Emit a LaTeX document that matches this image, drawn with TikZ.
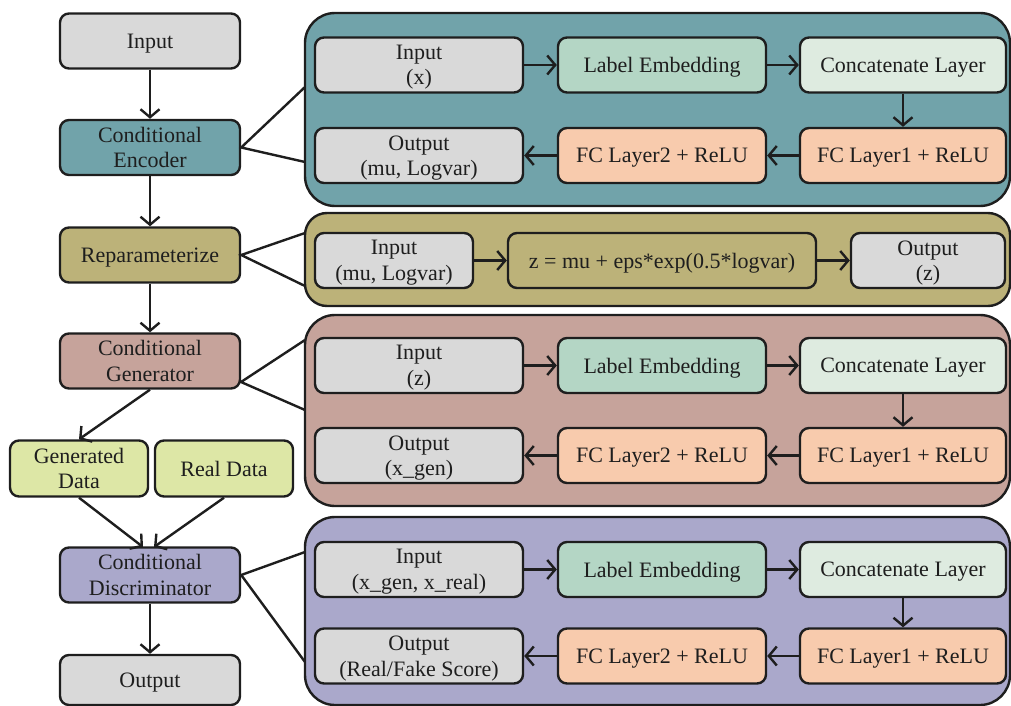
\documentclass[tikz,border=0pt]{standalone}
\usepackage{fontspec}
\setmainfont{Liberation Serif}
\usetikzlibrary{arrows.meta}

\definecolor{cteal}{HTML}{71A3AA}
\definecolor{colive}{HTML}{BCB279}
\definecolor{crose}{HTML}{C6A39B}
\definecolor{clav}{HTML}{AAA8CB}
\definecolor{cgrey}{HTML}{D9D9D9}
\definecolor{cmint}{HTML}{B4D6C5}
\definecolor{cpale}{HTML}{DEEBE0}
\definecolor{cpeach}{HTML}{F8CBAD}
\definecolor{clime}{HTML}{DDE7A6}
\definecolor{cink}{HTML}{1E1E1E}

\tikzset{
  box/.style={draw=cink, line width=2.4pt, rounded corners=9pt, align=center,
    inner sep=0pt, text=cink, text depth=-1pt, font=\fontsize{22}{25.5}\selectfont},
  leftbox/.style={box, minimum width=180pt, minimum height=55pt},
  panel/.style={draw=cink, line width=2.4pt, rounded corners=30pt, inner sep=0pt},
  cell/.style={box, minimum width=208pt, minimum height=55pt},
  flow/.style={draw=cink, line width=2.4pt, -{Straight Barb[length=8pt,width=19pt,line width=2.4pt]}},
  link/.style={draw=cink, line width=2.4pt}
}

\begin{document}
\begin{tikzpicture}[x=1pt,y=-1pt]
\useasboundingbox (0,0) rectangle (1011,706);

% ---- main pipeline (left column) ----
\node[leftbox, fill=cgrey]  (in)  at (150,41)    {Input};
\node[leftbox, fill=cteal]  (enc) at (150,147.5) {Conditional\\Encoder};
\node[leftbox, fill=colive] (rep) at (150,255)   {Reparameterize};
\node[leftbox, fill=crose]  (gen) at (150,361)   {Conditional\\Generator};
\node[box, fill=clime, minimum width=138pt, minimum height=56pt] (gd) at (79,468.5)  {Generated\\Data};
\node[box, fill=clime, minimum width=138pt, minimum height=56pt] (rd) at (224,468.5) {Real Data};
\node[leftbox, fill=clav]   (dis) at (150,575)   {Conditional\\Discriminator};
\node[leftbox, fill=cgrey, minimum height=50pt] (out) at (150,680) {Output};

\draw[flow] (in) -- (enc);
\draw[flow] (enc) -- (rep);
\draw[flow] (rep) -- (gen);
\draw[flow] (gen.south) -- (gd.north);
\coordinate (disL) at (143,547);
\coordinate (disR) at (154,547);
\draw[flow] (gd.south) -- (disL);
\draw[flow] (rd.south) -- (disR);
\draw[flow] (dis) -- (out);

% ---- detail panels ----
\node[panel, fill=cteal,  minimum width=705pt, minimum height=193pt] (p1) at (657.5,109.5) {};
\node[panel, fill=colive, minimum width=705pt, minimum height=93pt, rounded corners=22pt] (p2) at (657.5,259.5) {};
\node[panel, fill=crose,  minimum width=705pt, minimum height=191pt] (p3) at (657.5,410.5) {};
\node[panel, fill=clav,   minimum width=705pt, minimum height=188pt] (p4) at (657.5,611) {};

% links from the pipeline to its panel
\coordinate (p1a) at (305,87);  \coordinate (p1b) at (305,162);
\coordinate (p2a) at (305,233); \coordinate (p2b) at (305,286);
\coordinate (p3a) at (305,340); \coordinate (p3b) at (305,410);
\coordinate (p4a) at (305,552); \coordinate (p4b) at (305,662);
\coordinate (genr) at (241,382);
\draw[link] (p1a) -- (enc.east) -- (p1b);
\draw[link] (p2a) -- (rep.east) -- (p2b);
\draw[link] (p3a) -- (genr) -- (p3b);
\draw[link] (p4a) -- (dis.east) -- (p4b);

% ---- encoder ----
\node[cell, fill=cgrey]  (e1) at (419,65)    {Input\\(x)};
\node[cell, fill=cmint]  (e2) at (662,65)    {Label Embedding};
\node[cell, fill=cpale, minimum width=206pt] (e3) at (903,65) {Concatenate Layer};
\node[cell, fill=cpeach, minimum width=206pt] (e4) at (903,155.5) {FC Layer1 + ReLU};
\node[cell, fill=cpeach] (e5) at (662,155.5) {FC Layer2 + ReLU};
\node[cell, fill=cgrey]  (e6) at (419,155.5) {Output\\(mu, Logvar)};
\draw[flow] (e1) -- (e2);
\draw[flow] (e2) -- (e3);
\draw[flow] (e3) -- (e4);
\draw[flow] (e4) -- (e5);
\draw[flow] (e5) -- (e6);

% ---- reparameterization ----
\node[cell, fill=cgrey,  minimum width=158pt] (r1) at (394,260.5) {Input\\(mu, Logvar)};
\node[cell, fill=colive, minimum width=308pt] (r2) at (662,260.5) {z = mu + eps*exp(0.5*logvar)};
\node[cell, fill=cgrey,  minimum width=154pt] (r3) at (928,260.5) {Output\\(z)};
\draw[flow] (r1) -- (r2);
\draw[flow] (r2) -- (r3);

% ---- generator ----
\node[cell, fill=cgrey]  (g1) at (419,365.5) {Input\\(z)};
\node[cell, fill=cmint]  (g2) at (662,365.5) {Label Embedding};
\node[cell, fill=cpale, minimum width=206pt] (g3) at (903,365.5) {Concatenate Layer};
\node[cell, fill=cpeach, minimum width=206pt] (g4) at (903,455.5) {FC Layer1 + ReLU};
\node[cell, fill=cpeach] (g5) at (662,455.5) {FC Layer2 + ReLU};
\node[cell, fill=cgrey]  (g6) at (419,455.5) {Output\\(x\_gen)};
\draw[flow] (g1) -- (g2);
\draw[flow] (g2) -- (g3);
\draw[flow] (g3) -- (g4);
\draw[flow] (g4) -- (g5);
\draw[flow] (g5) -- (g6);

% ---- discriminator ----
\node[cell, fill=cgrey]  (d1) at (419,569.5) {Input\\(x\_gen, x\_real)};
\node[cell, fill=cmint]  (d2) at (662,569.5) {Label Embedding};
\node[cell, fill=cpale, minimum width=206pt] (d3) at (903,569.5) {Concatenate Layer};
\node[cell, fill=cpeach, minimum width=206pt] (d4) at (903,656) {FC Layer1 + ReLU};
\node[cell, fill=cpeach] (d5) at (662,656) {FC Layer2 + ReLU};
\node[cell, fill=cgrey]  (d6) at (419,656) {Output\\(Real/Fake Score)};
\draw[flow] (d1) -- (d2);
\draw[flow] (d2) -- (d3);
\draw[flow] (d3) -- (d4);
\draw[flow] (d4) -- (d5);
\draw[flow] (d5) -- (d6);
\end{tikzpicture}
\end{document}
